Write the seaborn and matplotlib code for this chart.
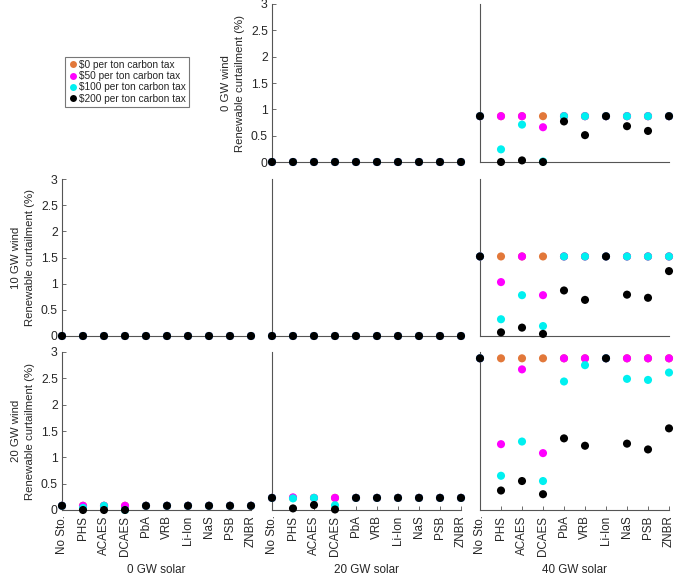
import numpy as np
import pandas as pd
import matplotlib
matplotlib.use('Agg')
import matplotlib.pyplot as plt
from matplotlib.lines import Line2D
import seaborn as sns

# storage technologies on the x axis
storage = ['No Sto.', 'PHS', 'ACAES', 'DCAES', 'PbA', 'VRB', 'Li-Ion', 'NaS', 'PSB', 'ZNBR']
taxes = ['$0 per ton carbon tax', '$50 per ton carbon tax',
         '$100 per ton carbon tax', '$200 per ton carbon tax']
wind_labels = ['0 GW wind', '10 GW wind', '20 GW wind']
solar_labels = ['0 GW solar', '20 GW solar', '40 GW solar']

zeros = [0.0] * 10

# renewable curtailment (%) for each tax level, one panel per (wind, solar)
w0_s20 = [zeros, zeros, zeros, zeros]
w0_s40 = [
    [0.87, 0.87, 0.87, 0.87, 0.87, 0.87, 0.87, 0.87, 0.87, 0.87],
    [0.87, 0.87, 0.87, 0.66, 0.87, 0.87, 0.87, 0.87, 0.87, 0.87],
    [0.87, 0.24, 0.71, 0.01, 0.87, 0.87, 0.87, 0.87, 0.87, 0.87],
    [0.87, 0.00, 0.03, 0.00, 0.77, 0.51, 0.87, 0.68, 0.59, 0.87],
]
w10_s0 = [zeros, zeros, zeros, zeros]
w10_s20 = [zeros, zeros, zeros, zeros]
w10_s40 = [
    [1.52, 1.52, 1.52, 1.52, 1.52, 1.52, 1.52, 1.52, 1.52, 1.52],
    [1.52, 1.03, 1.52, 0.78, 1.52, 1.52, 1.52, 1.52, 1.52, 1.52],
    [1.52, 0.32, 0.78, 0.19, 1.52, 1.52, 1.52, 1.52, 1.52, 1.52],
    [1.52, 0.07, 0.16, 0.04, 0.87, 0.69, 1.52, 0.79, 0.73, 1.24],
]
w20_s0 = [
    [0.08, 0.08, 0.08, 0.08, 0.08, 0.08, 0.08, 0.08, 0.08, 0.08],
    [0.08, 0.08, 0.08, 0.08, 0.08, 0.08, 0.08, 0.08, 0.08, 0.08],
    [0.08, 0.04, 0.08, 0.00, 0.08, 0.08, 0.08, 0.08, 0.08, 0.08],
    [0.08, 0.00, 0.00, 0.00, 0.08, 0.08, 0.08, 0.08, 0.08, 0.08],
]
w20_s20 = [
    [0.23, 0.23, 0.23, 0.23, 0.23, 0.23, 0.23, 0.23, 0.23, 0.23],
    [0.23, 0.24, 0.23, 0.23, 0.23, 0.23, 0.23, 0.23, 0.23, 0.23],
    [0.23, 0.22, 0.23, 0.09, 0.23, 0.23, 0.23, 0.23, 0.23, 0.23],
    [0.23, 0.03, 0.095, 0.01, 0.23, 0.23, 0.23, 0.23, 0.23, 0.23],
]
w20_s40 = [
    [2.88, 2.88, 2.88, 2.88, 2.88, 2.88, 2.88, 2.88, 2.88, 2.88],
    [2.88, 1.25, 2.67, 1.08, 2.88, 2.88, 2.88, 2.88, 2.88, 2.88],
    [2.88, 0.65, 1.30, 0.55, 2.44, 2.75, 2.88, 2.49, 2.47, 2.61],
    [2.88, 0.37, 0.55, 0.30, 1.36, 1.22, 2.88, 1.26, 1.15, 1.55],
]

panels = {
    (0, 1): w0_s20, (0, 2): w0_s40,
    (1, 0): w10_s0, (1, 1): w10_s20, (1, 2): w10_s40,
    (2, 0): w20_s0, (2, 1): w20_s20, (2, 2): w20_s40,
}

colors = ['#E2783A', '#FF00FF', '#00F0F0', '#000000']
palette = dict(zip(taxes, colors))

sns.set_style('white')
plt.rcParams['font.family'] = ['Liberation Sans', 'DejaVu Sans']

W, H = 674, 577
fig = plt.figure(figsize=(W / 100, H / 100), dpi=100)

col_x = [(62, 251), (272, 461), (480, 669)]
row_y = [(4, 162), (179, 336), (352, 510)]
spine_col = '#555555'

for (r, c), vals in panels.items():
    x0, x1 = col_x[c]
    y0, y1 = row_y[r]
    ax = fig.add_axes([x0 / W, 1 - y1 / H, (x1 - x0) / W, (y1 - y0) / H])
    df = pd.DataFrame({
        'storage': storage * 4,
        'curt': np.concatenate(vals),
        'tax': np.repeat(taxes, 10),
    })
    sns.scatterplot(data=df, x='storage', y='curt', hue='tax', hue_order=taxes,
                    palette=palette, s=34, linewidth=0, legend=False,
                    ax=ax, clip_on=False, zorder=3)
    ax.set_xlim(0, 9)
    ax.set_ylim(0, 3)
    for s in ['top', 'right']:
        ax.spines[s].set_visible(False)
    for s in ['left', 'bottom']:
        ax.spines[s].set_color(spine_col)
        ax.spines[s].set_linewidth(0.8)
    ax.set_xlabel('')
    ax.set_ylabel('')
    first_col = (c == 0) or (r == 0 and c == 1)
    if first_col:
        ax.set_yticks([0, 0.5, 1, 1.5, 2, 2.5, 3])
        ax.set_yticklabels(['0', '0.5', '1', '1.5', '2', '2.5', '3'])
        ax.tick_params(axis='y', direction='in', length=3, width=0.6,
                       color=spine_col, labelsize=8.8, pad=3, left=True)
        ax.set_ylabel(wind_labels[r] + '\nRenewable curtailment (%)', fontsize=8.2,
                      linespacing=1.5, labelpad=4)
    else:
        ax.set_yticks([])
    if r == 2:
        ax.set_xticks(range(10))
        ax.set_xticklabels(storage, rotation=90)
        ax.tick_params(axis='x', direction='in', length=3, width=0.6,
                       color=spine_col, labelsize=8.4, pad=4, bottom=True)
        ax.set_xlabel(solar_labels[c], fontsize=8.4, labelpad=6)
    else:
        ax.set_xticks([])

handles = [Line2D([0], [0], marker='o', linestyle='', markersize=5,
                  markerfacecolor=col, markeredgewidth=0, label=t)
           for t, col in zip(taxes, colors)]
leg = fig.legend(handles=handles, loc='upper left',
                 bbox_to_anchor=(65 / W, 1 - 57 / H), borderaxespad=0,
                 fontsize=7.3, frameon=True, fancybox=False, framealpha=1,
                 edgecolor='#777777', handletextpad=0.1, handlelength=1.0,
                 labelspacing=0.12, borderpad=0.3)
leg.get_frame().set_linewidth(0.8)

fig.savefig('out.png', dpi=100)
